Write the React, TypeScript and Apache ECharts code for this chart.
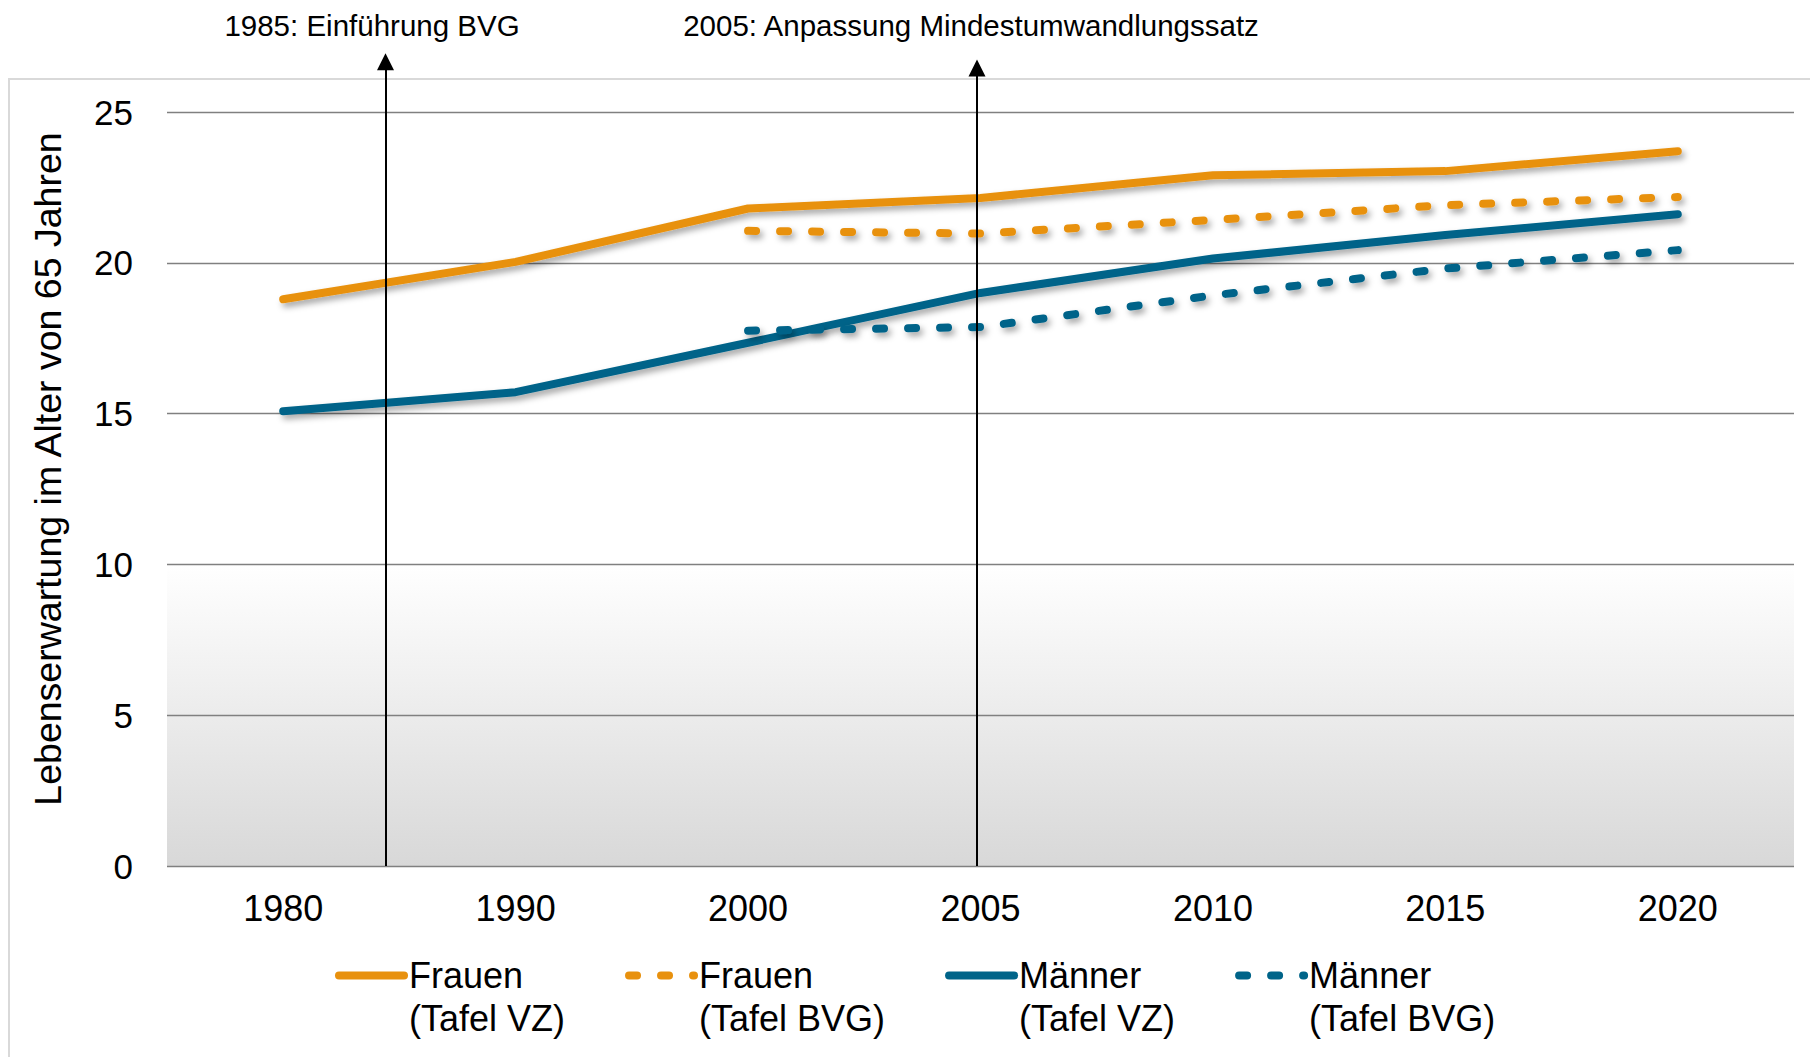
import React, { useEffect, useRef } from "react";
import * as echarts from "echarts";

// ---- data ----
const years = ["1980", "1990", "2000", "2005", "2010", "2015", "2020"];
const frauenVZ = [18.79, 20.03, 21.8, 22.15, 22.9, 23.04, 23.7];
const frauenBVG = [null, null, 21.06, 20.97, 21.42, 21.91, 22.18];
const maennerVZ = [15.08, 15.71, 17.35, 19.0, 20.14, 20.92, 21.61];
const maennerBVG = [null, null, 17.75, 17.87, 18.92, 19.81, 20.42];
const seriesNames = [
  "Frauen\n(Tafel VZ)",
  "Frauen\n(Tafel BVG)",
  "Männer\n(Tafel VZ)",
  "Männer\n(Tafel BVG)",
];
const yMin = 0;
const yMax = 25;
const yInterval = 5;
const shadedBelow = 10;
// events: position on the category scale (index), arrow top value, label
const eventPositions = [0.44, 2.985];
const eventTops = [26.67, 26.46];
const eventLabels = ["1985: Einführung BVG", "2005: Anpassung Mindestumwandlungssatz"];
const yAxisName = "Lebenserwartung im Alter von 65 Jahren";

const ORANGE = "#E8910E";
const BLUE = "#006489";
const FONT = "'Liberation Sans', Arial, Helvetica, sans-serif";

export default function App() {
  const ref = useRef<HTMLDivElement>(null);
  useEffect(() => {
    if (!ref.current) return;
    const chart = echarts.init(ref.current, undefined, { renderer: "svg" });

    const shadow = {
      shadowColor: "rgba(0,0,0,0.35)",
      shadowBlur: 6,
      shadowOffsetX: 3,
      shadowOffsetY: 4,
    };
    const mk = (name: string, data: any[], color: string, dashed: boolean) => ({
      name,
      type: "line",
      data,
      symbol: "none",
      connectNulls: false,
      z: 3,
      lineStyle: {
        color,
        width: 8,
        cap: "round",
        join: "round",
        type: dashed ? [8, 24] : "solid",
        ...shadow,
      },
      itemStyle: { color },
      emphasis: { disabled: true },
    });

    const labelShift = [27, 12];
    const labelDist = [21, 27.5];
    const whiteStop = 1 - shadedBelow / (yMax - yMin);

    const option: any = {
      animation: false,
      textStyle: { fontFamily: FONT },
      graphic: [
        {
          type: "rect",
          silent: true,
          z: -10,
          shape: { x: 9, y: 79, width: 1900, height: 1100 },
          style: { fill: "none", stroke: "#d9d9d9", lineWidth: 2 },
        },
      ],
      grid: {
        left: 167,
        right: 16,
        top: 112,
        bottom: 191,
        containLabel: false,
        show: true,
        borderWidth: 0,
        backgroundColor: new echarts.graphic.LinearGradient(0, 0, 0, 1, [
          { offset: 0, color: "#ffffff" },
          { offset: whiteStop, color: "#ffffff" },
          { offset: 1, color: "#d8d8d8" },
        ]),
      },
      xAxis: [
        {
          type: "category",
          data: years,
          boundaryGap: true,
          axisLine: { show: false },
          axisTick: { show: false },
          axisLabel: { fontSize: 36, color: "#000", margin: 24, fontFamily: FONT },
          splitLine: { show: false },
        },
        {
          type: "value",
          min: -0.5,
          max: years.length - 0.5,
          show: false,
        },
      ],
      yAxis: {
        type: "value",
        min: yMin,
        max: yMax,
        interval: yInterval,
        axisLine: { show: false },
        axisTick: { show: false },
        axisLabel: { fontSize: 35, color: "#000", margin: 34, fontFamily: FONT },
        splitLine: { show: true, lineStyle: { color: "#808080", width: 1.3 } },
        name: yAxisName,
        nameLocation: "middle",
        nameGap: 100,
        nameRotate: 90,
        nameTextStyle: {
          fontSize: 37.5,
          color: "#000",
          fontFamily: FONT,
          padding: [0, 0, 0, 40],
        },
      },
      legend: {
        data: seriesNames,
        left: 335,
        top: 911,
        padding: 0,
        itemWidth: 65,
        itemHeight: 14,
        itemGap: 60,
        selectedMode: false,
        formatter: (name: string) => "\n" + name,
        itemStyle: { opacity: 0 },
        lineStyle: {
          width: 8,
          cap: "round",
          shadowBlur: 0,
          shadowOffsetX: 0,
          shadowOffsetY: 0,
          shadowColor: "transparent",
        },
        textStyle: {
          fontSize: 36,
          lineHeight: 43,
          color: "#000",
          fontFamily: FONT,
        },
      },
      series: [
        mk(seriesNames[0], frauenVZ, ORANGE, false),
        mk(seriesNames[1], frauenBVG, ORANGE, true),
        mk(seriesNames[2], maennerVZ, BLUE, false),
        mk(seriesNames[3], maennerBVG, BLUE, true),
        {
          id: "events",
          name: "events",
          type: "line",
          xAxisIndex: 1,
          yAxisIndex: 0,
          data: [],
          clip: false,
          z: 5,
          silent: true,
        },
      ],
    };
    chart.setOption(option);

    const y0 = chart.convertToPixel({ yAxisIndex: 0 }, 0) as number;
    const lines = eventPositions.map((p, i) => {
      const x = chart.convertToPixel({ xAxisIndex: 1 }, p) as number;
      const yTop = chart.convertToPixel({ yAxisIndex: 0 }, eventTops[i]) as number;
      return [
        {
          x,
          y: y0,
          label: {
            show: true,
            position: "end",
            formatter: eventLabels[i],
            fontSize: 29.5,
            color: "#000",
            fontFamily: FONT,
            distance: labelDist[i],
            padding: [0, labelShift[i], 0, 0],
          },
        },
        { x, y: yTop },
      ];
    });
    chart.setOption({
      series: [
        {
          id: "events",
          markLine: {
            silent: true,
            animation: false,
            symbol: ["none", "triangle"],
            symbolSize: [17, 17],
            emphasis: { disabled: true },
            lineStyle: { color: "#000", width: 2, type: "solid" },
            data: lines,
          },
        },
      ],
    });
    return () => chart.dispose();
  }, []);
  return (
    <div
      ref={ref}
      style={{ position: "fixed", left: 0, top: 0, width: 1810, height: 1057, background: "#fff" }}
    />
  );
}
